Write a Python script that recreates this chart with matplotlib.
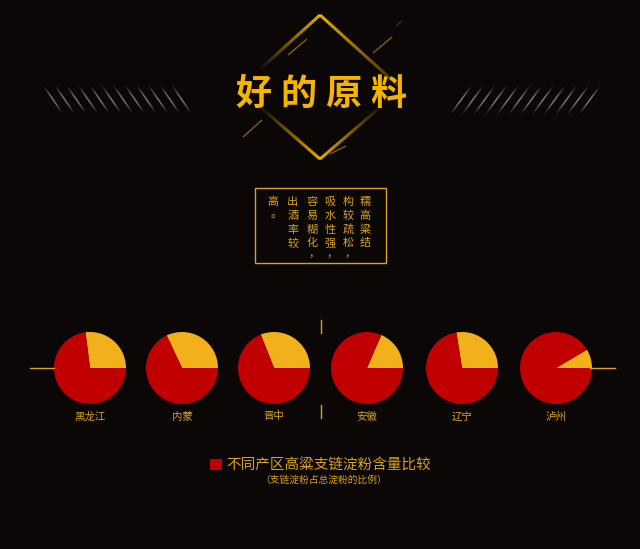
import numpy as np
import matplotlib
matplotlib.use("Agg")
import matplotlib.pyplot as plt
from matplotlib.collections import LineCollection
from matplotlib.patches import Rectangle

plt.rcParams['font.family'] = ['Noto Sans CJK SC', 'DejaVu Sans']

# data
regions = ["黑龙江", "内蒙", "晋中", "安徽", "辽宁", "泸州"]
amylopectin = [73, 68, 69, 81.5, 72.5, 91.5]      # red part, %
other = [100 - v for v in amylopectin]             # yellow part, %
title_chars = ["好", "的", "原", "料"]
note_cols = ["糯高粱结", "构较疏松，", "吸水性强，", "容易糊化，", "出酒率较", "高。"]
legend_text = "不同产区高粱支链淀粉含量比较"
legend_sub = "（支链淀粉占总淀粉的比例）"

W, H = 640, 549
bg = "#0a0706"
gold = "#d9a21e"
red = "#c00000"
yellow = "#f2b01a"


def Y(y):
    return H - y


def fade_line(ax, p0, p1, color, a0, a1, lw, n=40):
    xs = np.linspace(p0[0], p1[0], n + 1)
    ys = np.linspace(Y(p0[1]), Y(p1[1]), n + 1)
    segs = [[(xs[i], ys[i]), (xs[i + 1], ys[i + 1])] for i in range(n)]
    rgba = np.array(matplotlib.colors.to_rgba(color))
    cols = np.tile(rgba, (n, 1))
    cols[:, 3] = np.linspace(a0, a1, n)
    ax.add_collection(LineCollection(segs, colors=cols, linewidths=lw,
                                     capstyle="butt"))


def glow_stroke(ax, p0, p1, lw=1.1, n=30, peak=0.6):
    xs = np.linspace(p0[0], p1[0], n + 1)
    ys = np.linspace(Y(p0[1]), Y(p1[1]), n + 1)
    segs = [[(xs[i], ys[i]), (xs[i + 1], ys[i + 1])] for i in range(n)]
    t = (np.arange(n) + 0.5) / n
    cols = np.ones((n, 4))
    cols[:, :3] = 0.8
    cols[:, 3] = peak * np.sin(np.pi * t) ** 1.5
    ax.add_collection(LineCollection(segs, colors=cols, linewidths=lw))


fig = plt.figure(figsize=(W / 100, H / 100), dpi=100, facecolor=bg)
ax = fig.add_axes([0, 0, 1, 1])
ax.set_facecolor(bg)

# hatch strokes either side of the title
for i in range(12):
    x = 43 + i * 11.7
    glow_stroke(ax, (x, 85), (x + 20, 114))
    x = 450 + i * 11.7
    glow_stroke(ax, (x, 115), (x + 22, 85))

# diamond frame
dgold = "#f2b600"
fade_line(ax, (320, 15), (258, 71), dgold, 1.0, 0.0, 2.2)
fade_line(ax, (320, 15), (402, 89), dgold, 1.0, 0.15, 2.2)
fade_line(ax, (320, 159), (258, 105), dgold, 1.0, 0.0, 2.2)
fade_line(ax, (320, 159), (384, 104), dgold, 1.0, 0.0, 2.2)
# short accent lines
for p0, p1 in [((288, 55), (307, 39)), ((373, 53), (392, 37)),
               ((243, 137), (262, 120)), ((330, 154), (346, 146))]:
    fade_line(ax, p0, p1, "#b8860b", 0.7, 0.7, 1.0, n=2)
fade_line(ax, (396, 26), (402, 21), "#b8860b", 0.3, 0.3, 1.0, n=2)

# title
for i, ch in enumerate(title_chars):
    ax.text(253 + i * 45, Y(94), ch, color="#f4b400", fontsize=26,
            fontweight="bold", ha="center", va="center")

# vertical note box
ax.add_patch(Rectangle((255, Y(262.5)), 131, 75, fill=False,
                       edgecolor=gold, linewidth=1.0))
col_x = [365, 348.3, 330, 311.7, 292.7, 273.3]
for cx, col in zip(col_x, note_cols):
    for j, ch in enumerate(col):
        yy = 201.7 + j * 13.9
        if ch == "，":
            ax.text(cx + 2, Y(yy - 4), ch, color=gold, fontsize=8,
                    ha="center", va="center")
        elif ch == "。":
            ax.text(cx + 3, Y(yy - 2), ch, color=gold, fontsize=8,
                    ha="center", va="center")
        else:
            ax.text(cx, Y(yy), ch, color=gold, fontsize=8,
                    ha="center", va="center")

# pies
centers = [90, 182, 274, 367, 462, 556]
for cx, red_v, yel_v, name in zip(centers, amylopectin, other, regions):
    ax.pie([yel_v, red_v], colors=[yellow, red], startangle=0,
           counterclock=True, center=(cx, Y(368)), radius=36,
           wedgeprops=dict(linewidth=0))
    ax.text(cx, Y(416.5), name, color=gold, fontsize=7.5,
            ha="center", va="center")

ax.plot([30, 54], [Y(368), Y(368)], color=gold, linewidth=1.0)
ax.plot([590, 615], [Y(368), Y(368)], color=gold, linewidth=1.0)
ax.plot([320.5, 320.5], [Y(320), Y(333)], color=gold, linewidth=1.0)
ax.plot([320.5, 320.5], [Y(405), Y(418)], color=gold, linewidth=1.0)

# legend
ax.add_patch(Rectangle((210, Y(470)), 11.5, 11, facecolor=red,
                       edgecolor="none"))
ax.text(226, Y(465), legend_text, color=gold, fontsize=10.5,
        ha="left", va="center")
ax.text(324, Y(479.5), legend_sub, color=gold, fontsize=7,
        ha="center", va="center")

ax.set_xlim(0, W)
ax.set_ylim(0, H)
ax.set_aspect("auto")
ax.axis("off")

fig.savefig("out.png", dpi=100, facecolor=bg)
